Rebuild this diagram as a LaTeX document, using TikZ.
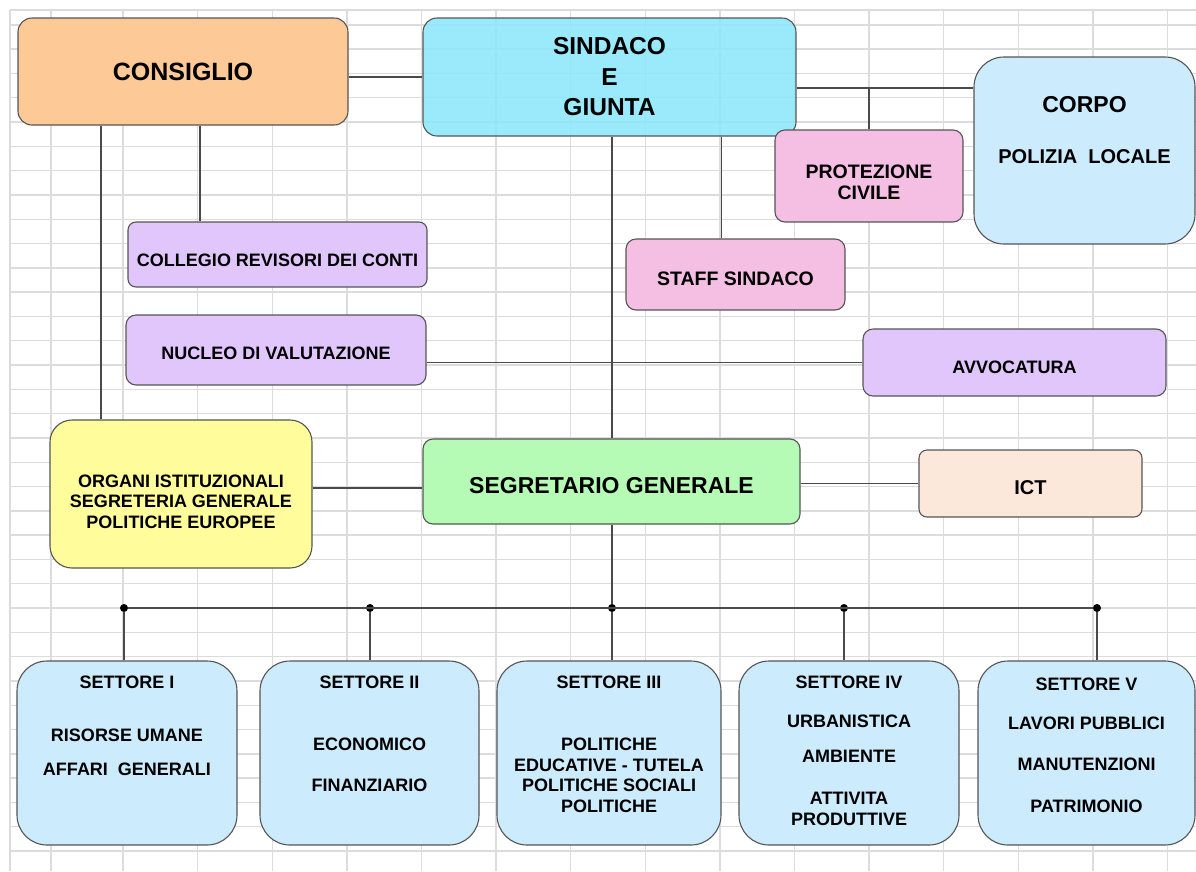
\documentclass[tikz,border=0pt]{standalone}
\usepackage{fontspec}
\setmainfont{Liberation Sans}
\usepackage{tikz}
\usetikzlibrary{backgrounds, calc}
\definecolor{Apricot}{HTML}{FDC996}
\definecolor{Turquoise}{HTML}{8DE7FA}
\definecolor{IceBlue}{HTML}{CCEBFC}
\definecolor{Orchid}{HTML}{F5BEE3}
\definecolor{Lavender}{HTML}{E0C6FB}
\definecolor{Canary}{HTML}{FFFC9C}
\definecolor{Mint}{HTML}{B5FBB5}
\definecolor{Linen}{HTML}{FCE8DA}
\definecolor{Black70}{HTML}{555555}
\definecolor{Black80}{HTML}{4A4A4A}
\definecolor{Gray15}{HTML}{DCDCDC}

\begin{document}
\begin{tikzpicture}[x=1pt, y=-1pt,
          ubox/.style={rectangle, draw=Black70, line width=1.1pt, rounded corners=10pt,
                        inner sep=0pt, align=center, text=black,
                        font=\fontsize{18}{20.5}\selectfont\bfseries},
          big/.style={font=\fontsize{23}{30.5}\selectfont\bfseries},
          mid/.style={font=\fontsize{19.5}{21}\selectfont\bfseries},
          sbox/.style={ubox, fill=IceBlue, rounded corners=30pt,
                        minimum width=220pt, minimum height=184pt},
          txt/.style={inner sep=0pt, align=center, font=\fontsize{18}{20.5}\selectfont\bfseries},
          lnk/.style={draw=Black80, line width=1.3pt},
          cell/.style={draw=Gray15, line width=1.4pt},
          dot/.style={circle, fill=black, inner sep=0pt, minimum size=8pt}
        ]
          \useasboundingbox (0,0) rectangle (1196,871);
          \node[ubox, fill=Apricot, minimum width=330pt, minimum height=107pt, rounded corners=14pt,
                font=\fontsize{25}{30}\selectfont\bfseries] (cons) at (183,71.5) {CONSIGLIO};
          \node[ubox, fill=Turquoise, fill opacity=0.88, text opacity=1, minimum width=373pt,
                minimum height=118pt, rounded corners=14pt,
                font=\fontsize{24.5}{30.5}\selectfont\bfseries] (sind) at (609.5,77) {SINDACO\\E\\GIUNTA};
          \node[ubox, fill=IceBlue, minimum width=221pt, minimum height=187pt, rounded corners=30pt] (corpo) at (1084.5,150.5) {};
          \node[txt, big] (corpo-t) at (1084.5,105) {CORPO};
          \node[txt, font=\fontsize{20}{24}\selectfont\bfseries] (corpo-s) at (1084.5,157) {POLIZIA~~LOCALE};
          \node[ubox, mid, fill=Orchid, minimum width=188pt, minimum height=92pt, text height=48pt] (prot) at (869,176) {PROTEZIONE\\CIVILE};
          \node[ubox, mid, fill=Orchid, minimum width=219pt, minimum height=71pt, text height=22pt] (staff) at (735.5,274.5) {STAFF SINDACO};
          \node[ubox, fill=Lavender, minimum width=299pt, minimum height=65pt, rounded corners=8pt, text height=23.5pt] (coll) at (277.5,254.5) {COLLEGIO REVISORI DEI CONTI};
          \node[ubox, fill=Lavender, minimum width=300pt, minimum height=70pt, text height=18.5pt] (nucl) at (276,350) {NUCLEO DI VALUTAZIONE};
          \node[ubox, fill=Lavender, minimum width=303pt, minimum height=67pt, text height=21.5pt] (avvo) at (1014.5,362.5) {AVVOCATURA};
          \node[ubox, fill=Canary, minimum width=262pt, minimum height=148pt, rounded corners=22pt, text height=69pt] (org) at (181,494)
                {ORGANI ISTITUZIONALI\\SEGRETERIA GENERALE\\POLITICHE EUROPEE};
          \node[ubox, big, fill=Mint, minimum width=377pt, minimum height=85pt, text height=23.5pt] (segr) at (611.5,481.5) {SEGRETARIO GENERALE};
          \node[ubox, fill=Linen, minimum width=223pt, minimum height=67pt, rounded corners=8pt, text height=23pt,
                font=\fontsize{20}{24}\selectfont\bfseries] (ict) at (1030.5,483.5) {ICT};

          \node[sbox] (s1) at (127,753) {};
          \node[sbox, minimum width=219pt] (s2) at (369.5,753) {};
          \node[sbox, minimum width=224pt] (s3) at (609,753) {};
          \node[sbox] (s4) at (849,753) {};
          \node[sbox, minimum width=217pt] (s5) at (1086.5,753) {};
          \node[txt, anchor=north] (t1) at ([yshift=-15pt]s1.north) {SETTORE I\\[32.5pt]RISORSE UMANE\\[13.5pt]AFFARI~~GENERALI};
          \node[txt, anchor=north] (t2) at ([yshift=-15.5pt]s2.north) {SETTORE II\\[41.5pt]ECONOMICO\\[20.5pt]FINANZIARIO};
          \node[txt, anchor=north] (t3) at ([yshift=-15.5pt]s3.north) {SETTORE III\\[41.5pt]POLITICHE\\EDUCATIVE - TUTELA\\POLITICHE SOCIALI\\POLITICHE};
          \node[txt, anchor=north] (t4) at ([yshift=-15.5pt]s4.north) {SETTORE IV\\[18.5pt]URBANISTICA\\[14.5pt]AMBIENTE\\[21.5pt]ATTIVITA\\PRODUTTIVE};
          \node[txt, anchor=north] (t5) at ([yshift=-17pt]s5.north) {SETTORE V\\[18.5pt]LAVORI PUBBLICI\\[20.5pt]MANUTENZIONI\\[21.5pt]PATRIMONIO};

          \node[dot] (d1) at (124,608) {};
          \node[dot] (d2) at (370,608) {};
          \node[dot] (d3) at (612,608) {};
          \node[dot] (d4) at (844,608) {};
          \node[dot] (d5) at (1097,608) {};

          \draw[lnk] (cons.east |- sind.west) -- (sind.west);
          \draw[lnk] ([yshift=-11pt]sind.east) coordinate (j1) -- (j1 -| corpo.west);
          \draw[lnk] (prot.north |- j1) -- (prot.north);
          \draw[lnk] ([xshift=-14pt]staff.north) -- ([xshift=-14pt]staff.north |- sind.south);
          \draw[lnk] (sind.south -| d3) -- (segr.north -| d3);
          \draw[lnk] ([xshift=17pt]cons.south) -- ([xshift=17pt]cons.south |- coll.north);
          \draw[lnk] ([xshift=-82pt]cons.south) -- ([xshift=-82pt]cons.south |- org.north);
          \draw[lnk] (nucl.east |- avvo.west) -- (avvo.west);
          \draw[lnk] ([yshift=-6.5pt]segr.west) coordinate (j2) -- (j2 -| org.east);
          \draw[lnk] (segr.east |- ict.west) -- (ict.west);
          \draw[lnk] (segr.south -| d3) -- (d3);
          \draw[lnk] (d1) -- (d5);
          \foreach \i in {1,...,5} \draw[lnk] (d\i) -- (d\i |- s\i.north);

          \begin{scope}[on background layer]
            \foreach \gx in {10,51} \draw[cell] (\gx,10) -- (\gx,871);
            \foreach \k in {0,...,14} \draw[cell] ({123+74.6*\k},10) -- ({123+74.6*\k},871);
            \draw[cell] (10,10) -- (1196,10);
            \foreach \k in {0,...,34} \draw[cell] (10,{24.8+24.3*\k}) -- (1196,{24.8+24.3*\k});
          \end{scope}
        \end{tikzpicture}
\end{document}
